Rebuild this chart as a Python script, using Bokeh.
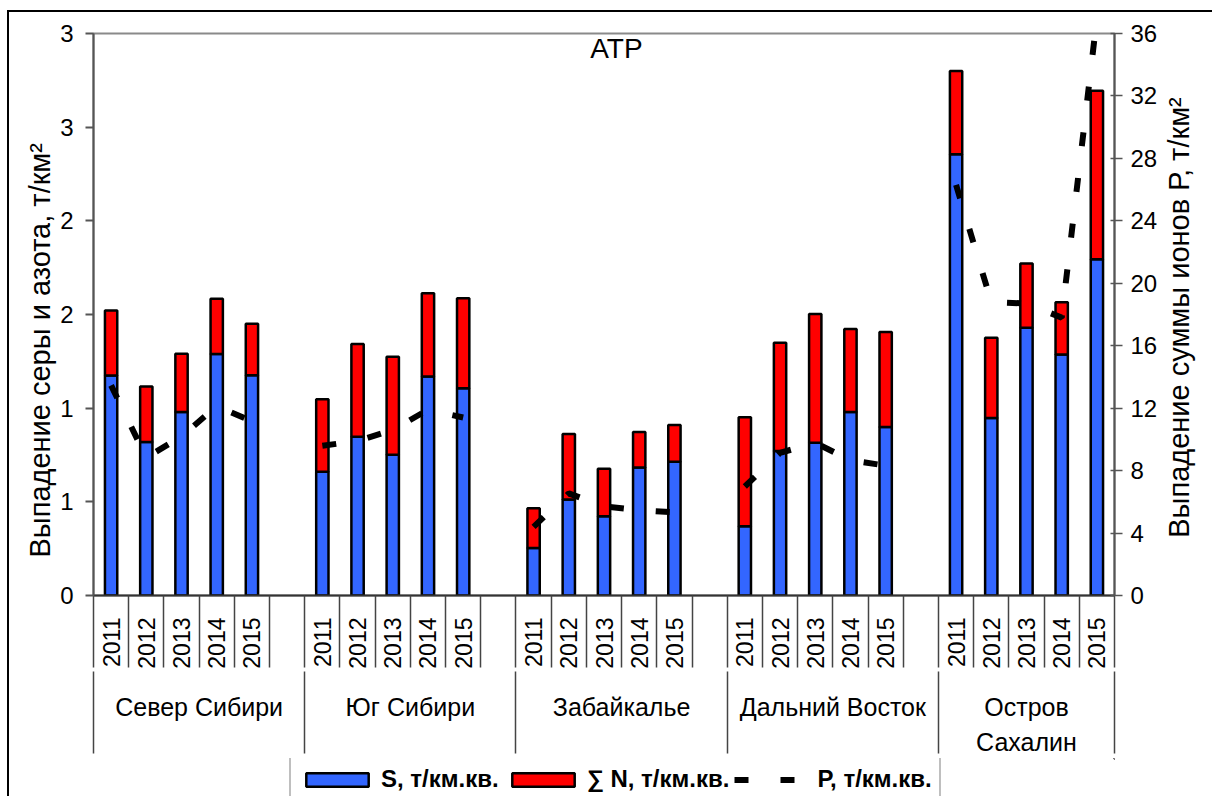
import math
from bokeh.plotting import figure
from bokeh.layouts import column, row
from bokeh.models import (ColumnDataSource, Range1d, LinearAxis, FixedTicker, Legend,
                          LegendItem, Label, Title)
from bokeh.embed import file_html
from bokeh.resources import INLINE

# ---------------- data ----------------
title_text = "АТР"
groups = ["Север Сибири", "Юг Сибири", "Забайкалье", "Дальний Восток", "Остров Сахалин"]
group_axis_labels = ["Север Сибири", "Юг Сибири", "Забайкалье", "Дальний Восток",
                     "Остров\nСахалин"]
years = ["2011", "2012", "2013", "2014", "2015"]

# S, t/km2 (blue, bottom of stack)
s_north = [1.175, 0.820, 0.979, 1.289, 1.176]
s_south = [0.661, 0.847, 0.751, 1.169, 1.106]
s_zab = [0.254, 0.513, 0.423, 0.683, 0.714]
s_fe = [0.370, 0.772, 0.815, 0.979, 0.899]
s_sakh = [2.355, 0.947, 1.429, 1.286, 1.795]

# sum N, t/km2 (red, top of stack)
n_north = [0.347, 0.296, 0.312, 0.295, 0.274]
n_south = [0.387, 0.495, 0.524, 0.445, 0.481]
n_zab = [0.212, 0.349, 0.254, 0.190, 0.196]
n_fe = [0.582, 0.577, 0.688, 0.444, 0.508]
n_sakh = [0.445, 0.429, 0.343, 0.280, 0.899]

# P, t/km2 (right axis, dashed line)
p_north = [13.46, 8.83, 10.19, 12.13, 11.17]
p_south = [9.59, 9.90, 10.60, 11.90, 11.40]
p_zab = [4.40, 6.54, 5.71, 5.46, 5.33]
p_fe = [6.98, 9.14, 9.78, 8.66, 8.32]
p_sakh = [26.30, 18.80, 18.70, 17.80, 37.00]

s_values = [s_north, s_south, s_zab, s_fe, s_sakh]
n_values = [n_north, n_south, n_zab, n_fe, n_sakh]
p_values = [p_north, p_south, p_zab, p_fe, p_sakh]

left_ticks = [0.0, 0.5, 1.0, 1.5, 2.0, 2.5, 3.0]
left_tick_labels = ["0", "1", "1", "2", "2", "3", "3"]
right_ticks = [0, 4, 8, 12, 16, 20, 24, 28, 32, 36]

legend_labels = ["S, т/км.кв.", "∑ N, т/км.кв.", "Р, т/км.кв."]
left_title = "Выпадение серы и азота, т/км²"
right_title = "Выпадение суммы ионов Р, т/км²"

# ---------------- styling / layout ----------------
FONT = "Liberation Sans"
BLUE = "#3366FF"
RED = "#FF0000"
slots_per_group = len(years) + 1
n_slots = slots_per_group * len(groups) - 1

xs, s_all, n_all, year_txt = [], [], [], []
for gi in range(len(groups)):
    for yi, yr in enumerate(years):
        xs.append(gi * slots_per_group + yi + 0.5)
        s_all.append(s_values[gi][yi])
        n_all.append(n_values[gi][yi])
        year_txt.append(yr)

src = ColumnDataSource(dict(x=xs, S=s_all, N=n_all))

line_xs, line_ys = [], []
for gi in range(len(groups)):
    line_xs.append([gi * slots_per_group + yi + 0.5 for yi in range(len(years))])
    line_ys.append(p_values[gi])

MAIN_W = 1160
MAIN_H = 758
TOTAL_W, TOTAL_H = 1212, 796

p = figure(width=MAIN_W, height=MAIN_H, x_range=Range1d(0, n_slots), y_range=Range1d(0, 3),
           x_axis_type=None, y_axis_type=None, output_backend="svg", toolbar_location=None,
           min_border_left=93, min_border_right=MAIN_W - 1115, min_border_top=33,
           min_border_bottom=MAIN_H - 600)
p.extra_y_ranges = {"p": Range1d(0, 36)}
p.outline_line_color = "#8a8a8a"
p.outline_line_width = 2
p.background_fill_color = "white"
p.border_fill_color = None
p.styles = {
    "background-color": "white",
    "background-image": "linear-gradient(black, black), linear-gradient(black, black)",
    "background-size": "2px 100%, 100% 2px",
    "background-position": "7px 10px, 7px 10px",
    "background-repeat": "no-repeat",
}

# left axis
yax = LinearAxis(ticker=FixedTicker(ticks=left_ticks),
                 major_label_overrides={t: l for t, l in zip(left_ticks, left_tick_labels)},
                 major_tick_out=8, major_tick_in=0, minor_tick_out=0, minor_tick_in=0,
                 axis_line_color="#555555", axis_line_width=2,
                 major_tick_line_color="#555555", major_tick_line_width=2,
                 major_label_text_font=FONT, major_label_text_font_size="24px",
                 major_label_text_color="black", major_label_standoff=12)
p.add_layout(yax, "left")
p.add_layout(Title(text=left_title, align="left", offset=38, standoff=4,
                   text_font=FONT, text_font_size="29px", text_font_style="normal",
                   text_color="black"), "left")

# right axis
rax = LinearAxis(y_range_name="p", ticker=FixedTicker(ticks=right_ticks),
                 major_tick_out=8, major_tick_in=4, minor_tick_out=0, minor_tick_in=0,
                 axis_line_color="#555555", axis_line_width=2,
                 major_tick_line_color="#555555", major_tick_line_width=1.5,
                 major_label_text_font=FONT, major_label_text_font_size="24px",
                 major_label_text_color="black", major_label_standoff=8)
p.add_layout(rax, "right")

# category axis (years) with ticks between categories
group_bounds = [gi * slots_per_group for gi in range(len(groups))] + [n_slots]
cat_bounds = []
for gi in range(len(groups)):
    for k in range(1, slots_per_group):
        b = gi * slots_per_group + k
        if b < n_slots:
            cat_bounds.append(b)
xax = LinearAxis(ticker=FixedTicker(ticks=xs, minor_ticks=sorted(cat_bounds + group_bounds)),
                 major_label_overrides={x: t for x, t in zip(xs, year_txt)},
                 major_label_orientation=math.pi / 2,
                 major_tick_out=0, major_tick_in=0, minor_tick_out=72, minor_tick_in=0,
                 axis_line_color="#333333", axis_line_width=2,
                 minor_tick_line_color="#444444", minor_tick_line_width=1.5,
                 major_label_text_font=FONT, major_label_text_font_size="23px",
                 major_label_text_color="black", major_label_standoff=-50)
p.add_layout(xax, "below")

# group axis (region names) with long separators
group_centers = [(group_bounds[gi] + group_bounds[gi + 1]) / 2 for gi in range(len(groups))]
gax = LinearAxis(ticker=FixedTicker(ticks=group_centers, minor_ticks=group_bounds),
                 major_label_overrides={c: t for c, t in zip(group_centers, group_axis_labels)},
                 major_tick_out=0, major_tick_in=0, minor_tick_out=82, minor_tick_in=0,
                 axis_line_color=None,
                 minor_tick_line_color="#444444", minor_tick_line_width=1.5,
                 major_label_text_font=FONT, major_label_text_font_size="25px",
                 major_label_text_line_height=1.25,
                 major_label_text_color="black", major_label_standoff=-61)
p.add_layout(gax, "below")

# bars
bars = p.vbar_stack(["S", "N"], x="x", width=0.35, source=src,
                    fill_color=[BLUE, RED], line_color="black", line_width=2.5)

# P dashed lines (one per region)
pline = p.multi_line(xs=line_xs, ys=line_ys, y_range_name="p", line_color="black",
                     line_width=6, line_dash="14 32", line_cap="butt")

# title
p.add_layout(Label(x=523, y=547, x_units="screen", y_units="screen", text=title_text,
                   text_align="center", text_baseline="middle", text_font=FONT,
                   text_font_size="28px", text_color="black"))

# ---------------- legend strip (bottom of the chart area) ----------------
LEG_H = TOTAL_H - MAIN_H
pl = figure(width=MAIN_W, height=LEG_H, x_range=Range1d(0, 1), y_range=Range1d(0, 1),
            x_axis_type=None, y_axis_type=None, output_backend="svg", toolbar_location=None,
            min_border=0, min_border_left=0, min_border_right=0, min_border_top=0,
            min_border_bottom=0)
pl.outline_line_color = None
pl.background_fill_color = None
pl.border_fill_color = None
pl.styles = {
    "background-color": "white",
    "background-image": "linear-gradient(black, black)",
    "background-size": "2px 100%",
    "background-position": "7px 0px",
    "background-repeat": "no-repeat",
}
# keys only: marks placed outside the visible range so that only legend glyphs show
off = ColumnDataSource(dict(x=[5.0], top=[5.0]))
lg_s = pl.vbar(x="x", top="top", bottom=4.0, width=0.1, source=off, fill_color=BLUE,
               line_color="black", line_width=2.5)
lg_n = pl.vbar(x="x", top="top", bottom=4.0, width=0.1, source=off, fill_color=RED,
               line_color="black", line_width=2.5)
lg_p = pl.multi_line(xs=[[5.0, 6.0]], ys=[[5.0, 6.0]], line_color="black", line_width=6,
                     line_dash="14 32", line_cap="butt")
legend = Legend(items=[LegendItem(label=legend_labels[0], renderers=[lg_s]),
                       LegendItem(label=legend_labels[1], renderers=[lg_n]),
                       LegendItem(label=legend_labels[2], renderers=[lg_p])],
                orientation="horizontal", location=(196, -6),
                glyph_width=78, glyph_height=17, label_standoff=5, spacing=5,
                padding=7, margin=0, label_text_font=FONT, label_text_font_size="24px",
                label_text_font_style="bold", label_text_color="black",
                border_line_color="#808080", border_line_width=2,
                background_fill_color="white", background_fill_alpha=1)
pl.add_layout(legend)

# ---------------- right strip with the right axis title ----------------
pr = figure(width=TOTAL_W - MAIN_W, height=TOTAL_H, x_range=Range1d(0, 1),
            y_range=Range1d(0, 1), x_axis_type=None, y_axis_type=None,
            output_backend="svg", toolbar_location=None,
            min_border=0, min_border_left=0, min_border_right=0, min_border_top=33,
            min_border_bottom=TOTAL_H - 600)
pr.outline_line_color = None
pr.background_fill_color = None
pr.border_fill_color = None
pr.styles = {
    "background-color": "white",
    "background-image": "linear-gradient(black, black)",
    "background-size": "100% 2px",
    "background-position": "0px 10px",
    "background-repeat": "no-repeat",
}
pr.add_layout(Label(x=1178 - MAIN_W, y=600 - 317, x_units="screen", y_units="screen",
                    text=right_title, angle=math.pi / 2, text_align="center",
                    text_baseline="middle", text_font=FONT, text_font_size="29px",
                    text_color="black"))

layout = row(column(p, pl, spacing=0), pr, spacing=0)
open("out.html", "w").write(file_html(layout, INLINE))
